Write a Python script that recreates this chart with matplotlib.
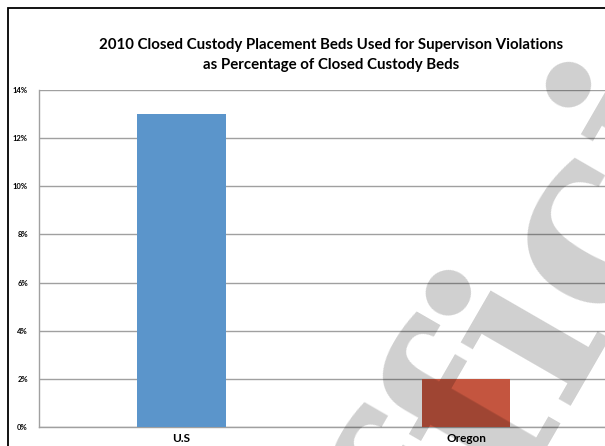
import matplotlib.pyplot as plt
from matplotlib.patches import Rectangle
from matplotlib.ticker import PercentFormatter

# closed custody beds used for supervision violations, % of all closed custody beds
regions = ["U.S", "Oregon"]
shares = [13, 2]
bar_colors = ["#5b95cb", "#c4553f"]
y_ticks = [0, 2, 4, 6, 8, 10, 12, 14]

W, H = 605, 446
fig = plt.figure(figsize=(W / 100, H / 100), dpi=100)
fig.patch.set_facecolor("white")

# outer chart frame (only top and left edges fall inside the page)
fig.patches.append(Rectangle((8 / W, -0.1), 1.2, 1 - 8 / H + 0.1,
                             transform=fig.transFigure, fill=False,
                             edgecolor="black", linewidth=1.3))

ax = fig.add_axes([39 / W, 1 - 427 / H, 569.7 / W, 337 / H])
ax.bar(range(len(regions)), shares, width=0.31, color=bar_colors, zorder=3)

ax.set_xlim(-0.5, 1.5)
ax.set_ylim(0, 14)
ax.set_yticks(y_ticks)
ax.yaxis.set_major_formatter(PercentFormatter(decimals=0))
ax.grid(axis="y", color="#a0a0a0", linewidth=1.0, zorder=0)
ax.set_xticks(range(len(regions)))
ax.set_xticklabels(regions, fontsize=8.5, fontweight="bold", family="Lato")
for lab in ax.get_yticklabels():
    lab.set_fontsize(5.5)
    lab.set_fontweight("bold")
    lab.set_family("Lato")
ax.tick_params(axis="both", length=0, pad=8)
ax.tick_params(axis="x", pad=4)
for side in ["top", "right"]:
    ax.spines[side].set_visible(False)
for side in ["left", "bottom"]:
    ax.spines[side].set_color("#a0a0a0")
    ax.spines[side].set_linewidth(1.0)

fig.text(331 / W, 1 - 55 / H,
         "2010 Closed Custody Placement Beds Used for Supervison Violations\n"
         "as Percentage of Closed Custody Beds",
         ha="center", va="center", fontsize=10.8, fontweight="bold",
         family="Lato", linespacing=1.6)

# watermark stamped across the page
fig.text(545 / W, 1 - 300 / H, "Official", rotation=60, ha="center", va="center",
         fontsize=175, fontweight="bold", family="DejaVu Serif",
         color="black", alpha=0.19, zorder=10)

fig.savefig("out.png", dpi=100)
